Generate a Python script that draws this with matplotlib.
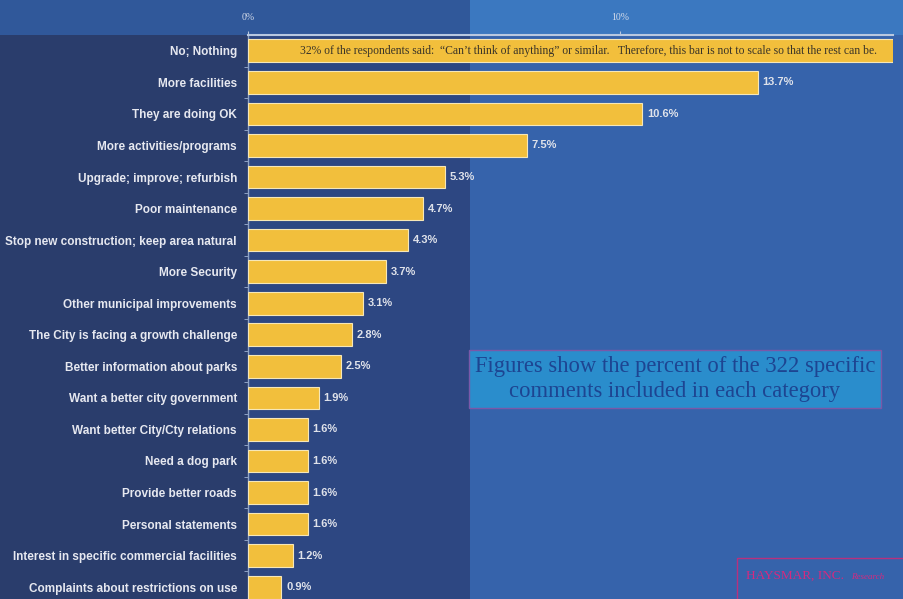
import matplotlib
matplotlib.use("Agg")
import matplotlib.pyplot as plt
from matplotlib.patches import Rectangle

# Survey comment categories and their share of comments (%)
categories = [
    "No; Nothing",
    "More facilities",
    "They are doing OK",
    "More activities/programs",
    "Upgrade; improve; refurbish",
    "Poor maintenance",
    "Stop new construction; keep area natural",
    "More Security",
    "Other municipal improvements",
    "The City is facing a growth challenge",
    "Better information about parks",
    "Want a better city government",
    "Want better City/Cty relations",
    "Need a dog park",
    "Provide better roads",
    "Personal statements",
    "Interest in specific commercial facilities",
    "Complaints about restrictions on use",
]
values = [32.0, 13.7, 10.6, 7.5, 5.3, 4.7, 4.3, 3.7, 3.1, 2.8, 2.5, 1.9,
          1.6, 1.6, 1.6, 1.6, 1.2, 0.9]
tick_values = [0, 10]
tick_labels = ["0%", "10%"]

first_bar_note = ("32% of the respondents said:  \u201cCan\u2019t think of anything\u201d or similar.   "
                  "Therefore, this bar is not to scale so that the rest can be.")
box_note = "Figures show the percent of the 322 specific\ncomments included in each category"

W, H = 904, 599
fig = plt.figure(figsize=(W / 100, H / 100), dpi=100)
fig.patch.set_facecolor("#3663ab")


def fig_rect(x0, y0, x1, y1, color, z=-10):
    """Rectangle in pixel coordinates measured from the top-left corner."""
    fig.patches.append(Rectangle((x0 / W, 1 - y1 / H), (x1 - x0) / W, (y1 - y0) / H,
                                 transform=fig.transFigure, facecolor=color,
                                 edgecolor="none", zorder=z))


# background panels
fig_rect(0, 0, 470, 35, "#30589a")
fig_rect(470, 0, W, 35, "#3b78c0")
fig_rect(0, 35, 248, H, "#2a3d6c")
fig_rect(248, 35, 470, H, "#2d4782")

ax_left, ax_right, ax_top, ax_bottom = 248, 893, 35, 603
ax = fig.add_axes([ax_left / W, 1 - ax_bottom / H, (ax_right - ax_left) / W,
                   (ax_bottom - ax_top) / H])
ax.set_facecolor("none")
ax.set_zorder(1)

y = list(range(len(categories)))
ax.barh(y, values, height=0.72, color="#f2bf3c", edgecolor="#f6e7b8",
        linewidth=0.8, zorder=3)
ax.set_xlim(0, (ax_right - ax_left) / 37.2)
ax.set_ylim(len(categories) - 0.5, -0.5)

# value labels (the first bar carries a note instead)
for yi, v in zip(y[1:], values[1:]):
    ax.text(v + 0.13, yi, f"{v:.1f}%", va="center", ha="left",
            fontsize=8, fontweight="bold", family="Liberation Sans",
            color="#dfe2ea", zorder=4)
ax.text(1.4, 0, first_bar_note, va="center", ha="left", fontsize=8.4,
        family="Liberation Serif", color="#3a3428", zorder=4)

# category labels
ax.set_yticks(y)
ax.set_yticklabels(categories, fontsize=8.5, fontweight="bold",
                   family="Liberation Sans", color="#e6e8f0")
ax.tick_params(axis="y", length=0, pad=8)
ax.set_yticks([i + 0.5 for i in y[:-1]], minor=True)
ax.tick_params(axis="y", which="minor", length=3, color="#9fb3d3", direction="out")

# percentage axis on top
ax.xaxis.tick_top()
ax.set_xticks(tick_values)
ax.set_xticklabels(tick_labels, fontsize=7, family="Liberation Serif",
                   color="#d5dcea")
ax.tick_params(axis="x", length=3, color="#b7c6de", pad=6)

for side in ["right", "bottom"]:
    ax.spines[side].set_visible(False)
ax.spines["top"].set_color("#b8c8e0")
ax.spines["top"].set_linewidth(1.5)
ax.spines["left"].set_color("#8ea3c6")
ax.spines["left"].set_linewidth(1.0)

# explanatory note box
fig.text(675 / W, 1 - 379 / H, box_note, ha="center", va="center",
         fontsize=16.3, family="Liberation Serif", color="#1d4592",
         linespacing=1.25, zorder=6,
         bbox=dict(boxstyle="square,pad=0.25", facecolor="#2a8dcc",
                   edgecolor="#7a58a8", linewidth=1.0))

# company mark in the lower right corner
fig.patches.append(Rectangle((737 / W, -0.05), 0.3, 0.05 + (H - 558) / H,
                             transform=fig.transFigure, facecolor="none",
                             edgecolor="#b8307e", linewidth=1.0, zorder=5))
fig.text(746 / W, 1 - 576 / H, "HAYSMAR, INC.", fontsize=9.5, family="Liberation Serif",
         color="#d42a80", va="center", ha="left", zorder=6)
fig.text(851 / W, 1 - 577 / H, "Research", fontsize=6.5, style="italic",
         family="Liberation Serif", color="#d42a80", va="center", ha="left", zorder=6)

fig.savefig("out.png", dpi=100, facecolor=fig.get_facecolor())
